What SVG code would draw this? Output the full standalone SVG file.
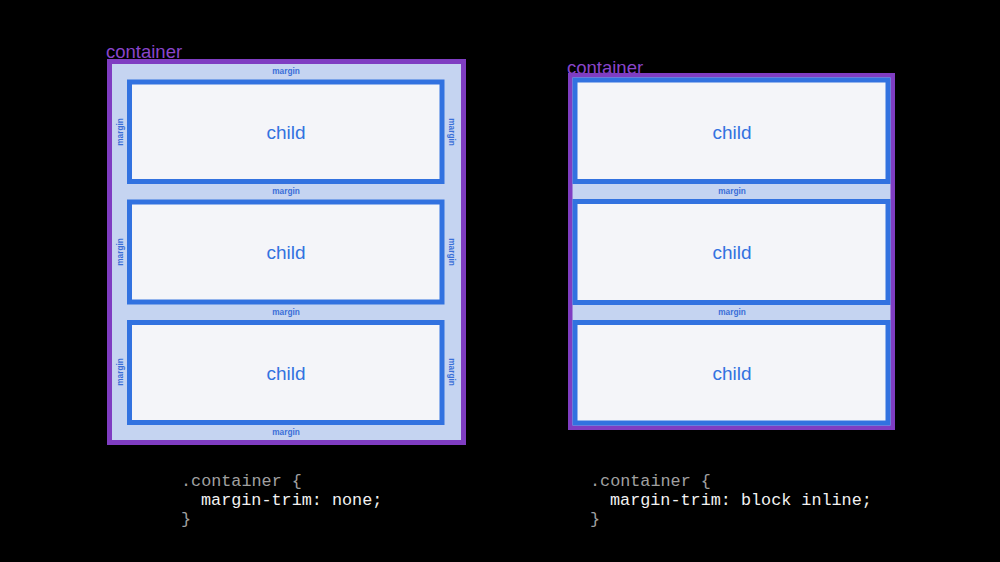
<svg xmlns="http://www.w3.org/2000/svg" width="1000" height="562" viewBox="0 0 1000 562">
<style>
.bg{fill:#000}
.cont{fill:#c5d4f1;stroke:#7f3dc2}
.child{fill:#f4f5f9;stroke:#3272e0;stroke-width:5}
.clabel{font-family:"Liberation Sans",Arial,sans-serif;font-size:18.5px;fill:#8a45cc}
.ch{font-family:"Liberation Sans",Arial,sans-serif;font-size:19px;fill:#3272e0;text-anchor:middle}
.m{font-family:"Liberation Sans",Arial,sans-serif;font-size:8.3px;font-weight:bold;fill:#3a6fd8;text-anchor:middle}
.code{font-family:"Liberation Mono","DejaVu Sans Mono",monospace;font-size:16.8px}
.dim{fill:#a0a0a0}
.hi{fill:#f2f2f2}
</style>
<rect class="bg" x="0" y="0" width="1000" height="562"/>

<g id="left-container">
  <text class="clabel" x="106" y="58">container</text>
  <rect class="cont" x="109.5" y="61.5" width="354" height="381" stroke-width="5"/>
  <text class="m" x="286" y="74">margin</text>
  <text class="m" x="286" y="194">margin</text>
  <text class="m" x="286" y="315">margin</text>
  <text class="m" x="286" y="435">margin</text>
  <text class="m" transform="translate(122.5 132) rotate(-90)">margin</text>
  <text class="m" transform="translate(122.5 252) rotate(-90)">margin</text>
  <text class="m" transform="translate(122.5 372) rotate(-90)">margin</text>
  <text class="m" transform="translate(449 132) rotate(90)">margin</text>
  <text class="m" transform="translate(449 252) rotate(90)">margin</text>
  <text class="m" transform="translate(449 372) rotate(90)">margin</text>
</g>
<g id="left-child-1">
  <rect class="child" x="129.5" y="82" width="312.5" height="99.5"/>
  <text class="ch" x="286" y="139">child</text>
</g>
<g id="left-child-2">
  <rect class="child" x="129.5" y="202" width="312.5" height="100"/>
  <text class="ch" x="286" y="259">child</text>
</g>
<g id="left-child-3">
  <rect class="child" x="129.5" y="322.5" width="312.5" height="100"/>
  <text class="ch" x="286" y="380">child</text>
</g>

<g id="right-container">
  <text class="clabel" x="567" y="74">container</text>
  <rect class="cont" x="570.25" y="75.25" width="322.5" height="352.5" stroke-width="4.5"/>
  <text class="m" x="732" y="194">margin</text>
  <text class="m" x="732" y="315">margin</text>
</g>
<g id="right-child-1">
  <rect class="child" x="575" y="80" width="313" height="101.5"/>
  <text class="ch" x="732" y="139">child</text>
</g>
<g id="right-child-2">
  <rect class="child" x="575" y="201.5" width="313" height="101"/>
  <text class="ch" x="732" y="259">child</text>
</g>
<g id="right-child-3">
  <rect class="child" x="575" y="322.5" width="313" height="100.5"/>
  <text class="ch" x="732" y="380">child</text>
</g>

<g id="code-left" class="code">
  <text class="dim" x="181" y="486">.container {</text>
  <text class="hi" x="201" y="505">margin-trim: none;</text>
  <text class="dim" x="181" y="524">}</text>
</g>
<g id="code-right" class="code">
  <text class="dim" x="590" y="486">.container {</text>
  <text class="hi" x="610" y="505">margin-trim: block inline;</text>
  <text class="dim" x="590" y="524">}</text>
</g>
<g id="connectors"></g>
</svg>
